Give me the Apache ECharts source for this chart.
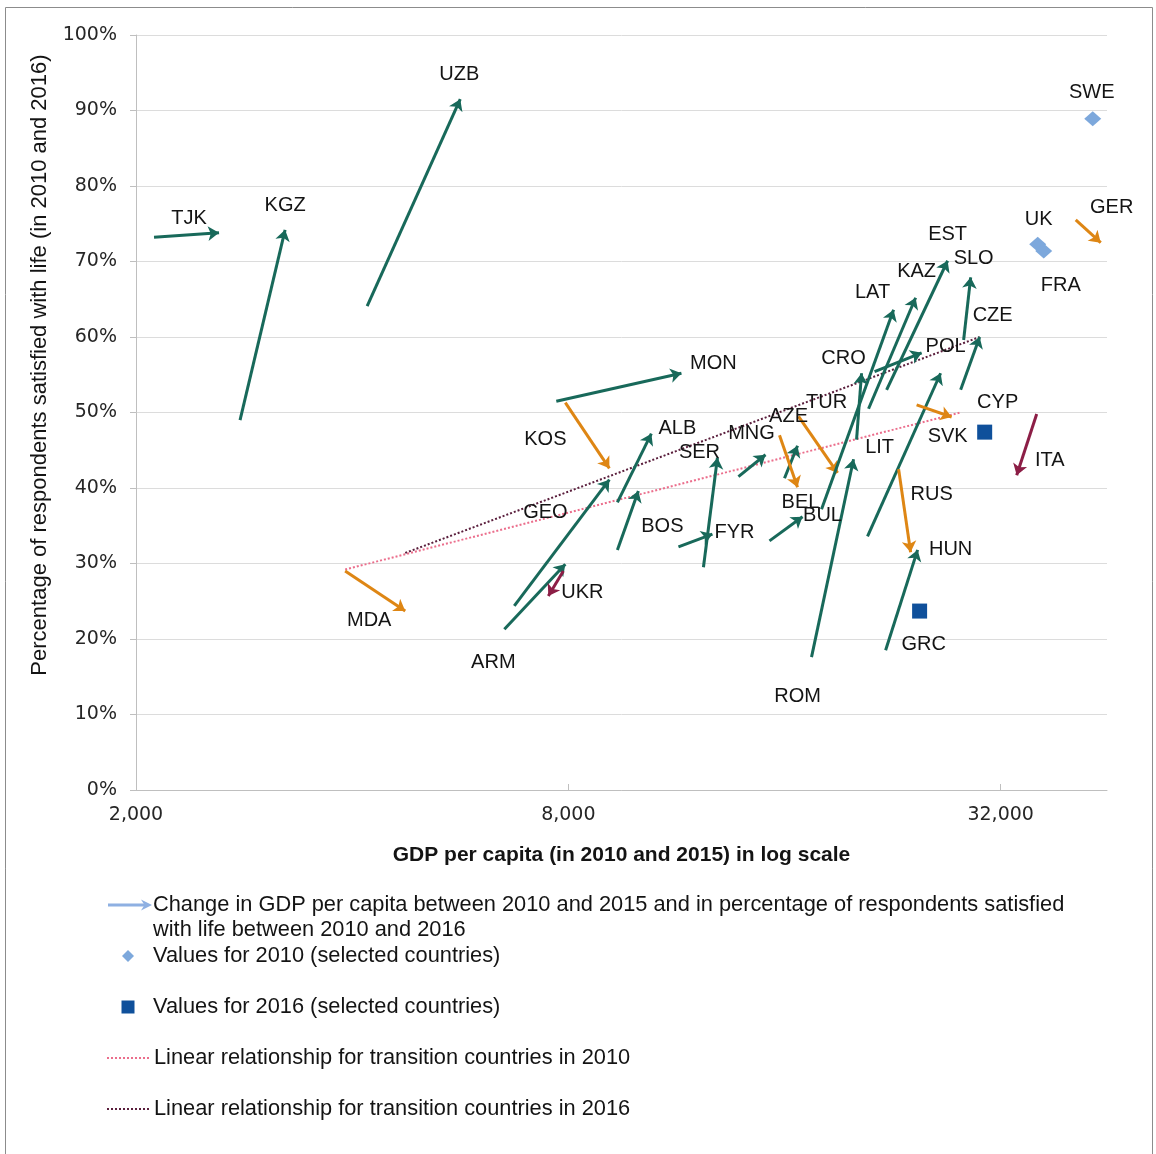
<!DOCTYPE html>
<html>
<head>
<meta charset="utf-8">
<script src="https://cdn.jsdelivr.net/npm/echarts@6/dist/echarts.min.js"></script>
<style>
html,body{margin:0;padding:0;background:#ffffff;}
#chart{width:1156px;height:1154px;}
</style>
</head>
<body>
<div id="chart"></div>
<script>
// ---------- data ----------
const countries = ['TJK','KGZ','UZB','MDA','KOS','MON','GEO','ARM','UKR','ALB','BOS','SER','FYR','MNG','AZE','BEL','TUR','BUL','LAT','CRO','ROM','KAZ','EST','POL','SLO','CZE','LIT','SVK','RUS','HUN','ITA','GER'];
const gdp2010 = [2119,2792,4197,3911,7923,7697,6727,6516,7873,9363,9363,12338,11387,13803,16000,15745,16735,15248,18017,20159,17448,20949,22197,21357,28417,28146,20880,24440,23069,22127,35919,40706];
const gdp2015 = [2610,3226,5657,4742,9125,11497,9125,7923,7503,10440,10014,12904,12699,15053,16682,16682,18968,16952,22700,20483,19965,24361,26995,24835,29064,29915,26395,27344,23973,24518,33687,44105];
const sat2010 = [73.2,49.0,64.1,29.0,51.3,51.5,24.4,21.3,29.0,38.1,31.8,29.5,32.2,41.5,41.3,47.0,49.5,33.0,37.2,46.4,17.6,50.5,53.0,55.4,59.6,53.0,33.6,51.0,42.5,18.5,49.8,75.5];
const sat2016 = [73.8,74.2,91.5,23.7,42.6,55.2,41.1,29.9,25.7,47.2,39.6,44.0,33.9,44.4,45.6,40.1,42.0,36.2,63.6,55.2,43.8,65.2,70.1,57.9,67.9,60.0,55.2,49.4,31.5,31.8,41.7,72.5];

const sel2010Names = ['SWE','UK','FRA'];
const sel2010Gdp = [42989,36035,36736];
const sel2010Sat = [88.9,72.3,71.4];

const sel2016Names = ['CYP','GRC'];
const sel2016Gdp = [30400,24675];
const sel2016Sat = [47.4,23.7];

const trendGdp2010 = [3911,28146];
const trendSat2010 = [29.2,50.0];
const trendGdp2016 = [4742,29915];
const trendSat2016 = [31.4,60.0];

const xTickValues = [2000,8000,32000];

// ---------- layout / style (label offsets in px from the marker) ----------
const labelOffsets = {
  TJK:[-30,-14], KGZ:[0,-24], UZB:[-1,-25], MDA:[-36,9], KOS:[-64,-29], MON:[32,-10],
  GEO:[-64,33], ARM:[-72,98], UKR:[34,-3], ALB:[26,-5], BOS:[24,35], SER:[-18,-5],
  FYR:[22,-2], MNG:[-14,-21], AZE:[-9,-29], BEL:[3,15], TUR:[-11,-70], BUL:[20,-1],
  LAT:[-21,-17], CRO:[-18,-15], ROM:[-56,237], KAZ:[1,-26], EST:[0,-26], POL:[24,-6],
  SLO:[3,-19], CZE:[13,-22], LIT:[-61,74], SVK:[-4,19], RUS:[21,-58], HUN:[33,0],
  ITA:[33,-15], GER:[11,-35],
  SWE:[-1,-26], UK:[1,-25], FRA:[17,35], CYP:[13,-30], GRC:[4,33]
};

const TEAL = '#18695A', ORANGE = '#DE8614', MAROON = '#8C1E46';
const LIGHTBLUE = '#7DA8DC', DARKBLUE = '#0F509B';
const PINK = '#EB6E8C', DARKDOT = '#5A1E3C', LEGENDARROW = '#8EB0E2';
const FONT = "'Liberation Sans', Arial, sans-serif";
const TICKFONT = "'DejaVu Sans', Verdana, sans-serif";
const TEXTCOL = '#141414';
const LEGENDFONT = 21.8;

function colorOf(i) {
  if (sat2016[i] >= sat2010[i]) return TEAL;
  return gdp2015[i] >= gdp2010[i] ? ORANGE : MAROON;
}
function fmtThousands(v) {
  return String(Math.round(v)).replace(/\B(?=(\d{3})+(?!\d))/g, ',');
}

const N2010 = 'Values for 2010 (selected countries)';
const N2016 = 'Values for 2016 (selected countries)';
const NT2010 = 'Linear relationship for transition countries in 2010';
const NT2016 = 'Linear relationship for transition countries in 2016';

const chart = echarts.init(document.getElementById('chart'), null, {renderer:'canvas'});

function legendText(padLeft) {
  return {fontSize:LEGENDFONT, color:TEXTCOL, fontFamily:FONT, lineHeight:24, padding:[0,0,0,padLeft]};
}
const legendCommon = {orient:'vertical', padding:0, itemGap:0, selectedMode:false};

const option = {
  animation:false,
  backgroundColor:'#ffffff',
  textStyle:{fontFamily:FONT},
  grid:{left:136, right:49, top:35, bottom:364, containLabel:false, outerBoundsMode:'none'},
  xAxis:{
    type:'log', logBase:2, min:2000, max:45000,
    name:'GDP per capita (in 2010 and 2015) in log scale',
    nameLocation:'middle', nameGap:55,
    nameTextStyle:{fontSize:21, fontWeight:'bold', color:TEXTCOL, fontFamily:FONT},
    axisLine:{show:true, lineStyle:{color:'#BFBFBF', width:1}},
    axisTick:{show:true, inside:true, length:6, lineStyle:{color:'#BFBFBF'}, customValues:xTickValues},
    axisLabel:{show:true, customValues:xTickValues, formatter:fmtThousands, margin:16,
      fontSize:19, color:'#262626', fontFamily:TICKFONT},
    splitLine:{show:false}, minorTick:{show:false}, minorSplitLine:{show:false}
  },
  yAxis:{
    type:'value', min:0, max:100, interval:10,
    name:'Percentage of respondents satisfied with life (in 2010 and 2016)',
    nameLocation:'middle', nameGap:85, nameRotate:90,
    nameTextStyle:{fontSize:22, color:TEXTCOL, fontFamily:FONT, padding:[0,0,0,95]},
    axisLine:{show:true, lineStyle:{color:'#BFBFBF', width:1}},
    axisTick:{show:true, inside:false, length:6, lineStyle:{color:'#BFBFBF'}},
    axisLabel:{formatter:'{value}%', margin:19, fontSize:19, color:'#262626', fontFamily:TICKFONT},
    splitLine:{show:true, lineStyle:{color:'#DCDCDC', width:1}}
  },
  legend:[
    Object.assign({}, legendCommon, {data:[N2010], left:122, top:944, itemWidth:12, itemHeight:12, textStyle:legendText(14)}),
    Object.assign({}, legendCommon, {data:[N2016], left:121.5, top:995, itemWidth:13, itemHeight:13, textStyle:legendText(13.5)}),
    Object.assign({}, legendCommon, {data:[NT2010], left:106, top:1046, itemWidth:42, itemHeight:14, itemStyle:{opacity:0}, textStyle:legendText(0)}),
    Object.assign({}, legendCommon, {data:[NT2016], left:106, top:1097, itemWidth:42, itemHeight:14, itemStyle:{opacity:0}, textStyle:legendText(0)})
  ],
  graphic:[
    {type:'rect', silent:true, shape:{x:5.5, y:7.5, width:1147, height:1160},
      style:{fill:'none', stroke:'#8c8c8c', lineWidth:1}, z:-10},
    {type:'group', silent:true, children:[
      {type:'line', shape:{x1:108, y1:905, x2:146, y2:905}, style:{stroke:LEGENDARROW, lineWidth:3}},
      {type:'polygon', shape:{points:[[152,905],[141,899.5],[144.5,905],[141,910.5]]}, style:{fill:LEGENDARROW}},
      {type:'text', x:153, y:892.5, style:{
        text:'Change in GDP per capita between 2010 and 2015 and in percentage of respondents satisfied\nwith life between 2010 and 2016',
        fontSize:LEGENDFONT, lineHeight:25, fill:TEXTCOL, fontFamily:FONT, verticalAlign:'top', align:'left'}}
    ]}
  ],
  series:[
    {
      name:NT2010, type:'line', symbol:'none', silent:true, z:2,
      lineStyle:{type:'dotted', width:2, color:PINK}, itemStyle:{color:PINK},
      data: trendGdp2010.map((g,i)=>[g, trendSat2010[i]])
    },
    {
      name:NT2016, type:'line', symbol:'none', silent:true, z:2,
      lineStyle:{type:'dotted', width:2, color:DARKDOT}, itemStyle:{color:DARKDOT},
      data: trendGdp2016.map((g,i)=>[g, trendSat2016[i]])
    },
    {
      name:'Change', type:'lines', coordinateSystem:'cartesian2d', silent:true, z:3,
      symbol:['none','arrow'], symbolSize:11,
      lineStyle:{width:3, opacity:1, curveness:0},
      data: countries.map((c,i)=>({
        name:c,
        coords:[[gdp2010[i], sat2010[i]],[gdp2015[i], sat2016[i]]],
        lineStyle:{color:colorOf(i)}
      }))
    },
    {
      name:'labels', type:'scatter', silent:true, z:5,
      symbol:'circle', symbolSize:1, itemStyle:{color:'rgba(0,0,0,0)', opacity:1},
      label:{show:true, position:'inside', formatter:'{b}', fontSize:20, color:TEXTCOL, fontFamily:FONT},
      data: countries.map((c,i)=>({name:c, value:[gdp2015[i], sat2016[i]], label:{offset:labelOffsets[c]}}))
    },
    {
      name:N2010, type:'scatter', symbol:'diamond', symbolSize:[17,15], silent:true, z:4,
      itemStyle:{color:LIGHTBLUE, opacity:1},
      label:{show:true, position:'inside', formatter:'{b}', fontSize:20, color:TEXTCOL, fontFamily:FONT},
      data: sel2010Names.map((c,i)=>({name:c, value:[sel2010Gdp[i], sel2010Sat[i]], label:{offset:labelOffsets[c]}}))
    },
    {
      name:N2016, type:'scatter', symbol:'rect', symbolSize:15, silent:true, z:4,
      itemStyle:{color:DARKBLUE, opacity:1},
      label:{show:true, position:'inside', formatter:'{b}', fontSize:20, color:TEXTCOL, fontFamily:FONT},
      data: sel2016Names.map((c,i)=>({name:c, value:[sel2016Gdp[i], sel2016Sat[i]], label:{offset:labelOffsets[c]}}))
    }
  ]
};

chart.setOption(option);
</script>
</body>
</html>
